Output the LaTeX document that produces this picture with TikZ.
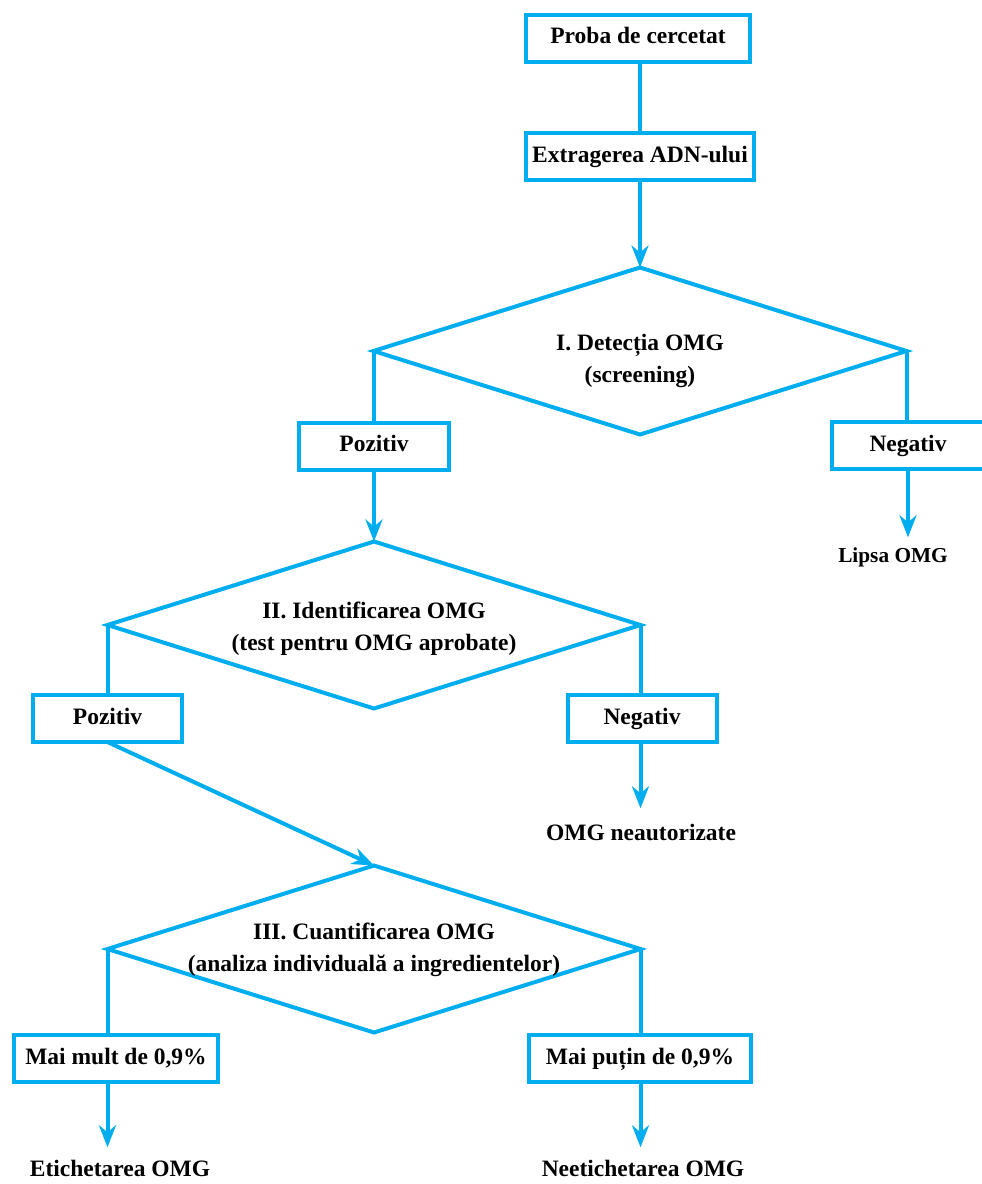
\documentclass[tikz,border=0pt]{standalone}
\usepackage{fontspec}
\setmainfont{Liberation Serif}
\usetikzlibrary{shapes.geometric,arrows.meta}
\definecolor{flowcyan}{RGB}{0,174,239}
\begin{document}
\begin{tikzpicture}[x=1pt,y=-1pt,
  every node/.style={font=\fontsize{23.5}{32}\selectfont\bfseries, text=black},
  boxn/.style={draw=flowcyan, line width=4pt, rectangle, inner sep=0pt, outer sep=0pt, minimum height=47pt, text height=16pt, text depth=5pt},
  dia/.style={draw=flowcyan, line width=4pt, diamond, inner sep=0pt, outer sep=0pt, minimum width=533pt, minimum height=167pt},
  lbl/.style={inner sep=0pt, align=center},
  term/.style={inner sep=0pt, text height=16pt, text depth=5pt},
  conn/.style={draw=flowcyan, line width=4pt},
  arr/.style={conn, -{Stealth[length=22pt,width=17pt,inset=7pt]}}
]
\useasboundingbox (0,0) rectangle (982,1184);

\node[boxn, minimum width=224pt] (B1) at (638,38) {Proba de cercetat};
\node[boxn, minimum width=228pt] (B2) at (640,156.5) {Extragerea ADN-ului};

\node[dia] (D1) at (640,351) {};
\node[lbl] (D1t) at (640,361) {I. Detecția OMG\\(screening)};

\node[boxn, minimum width=150pt] (P1) at (374,446) {Pozitiv};
\node[boxn, minimum width=152pt] (N1) at (908,445.5) {Negativ};
\node[term, font=\fontsize{21.3}{28}\selectfont\bfseries] (L1) at (893,557) {Lipsa OMG};

\node[dia] (D2) at (374,625) {};
\node[lbl] (D2t) at (374,629) {II. Identificarea OMG\\(test pentru OMG aprobate)};

\node[boxn, minimum width=149pt] (P2) at (107.5,718.5) {Pozitiv};
\node[boxn, minimum width=149pt] (N2) at (642,718.5) {Negativ};
\node[term] (L2) at (641,835) {OMG neautorizate};

\node[dia] (D3) at (374,949) {};
\node[lbl] (D3t) at (374,950) {III. Cuantificarea OMG\\(analiza individuală a ingredientelor)};

\node[boxn, minimum width=204pt] (M1) at (116,1058.5) {Mai mult de 0,9\%};
\node[boxn, minimum width=222pt] (M2) at (640,1058.5) {Mai puțin de 0,9\%};
\node[term] (E1) at (120,1171) {Etichetarea OMG};
\node[term] (E2) at (643,1171) {Neetichetarea OMG};

\draw[conn] (B1.south -| B2) -- (B2.north);
\draw[arr] (B2.south) -- (D1.north);
\draw[conn] (D1.west) -- (D1.west |- P1.north);
\draw[conn] (D1.east) -- (D1.east |- N1.north);
\draw[arr] (N1.south) -- ([yshift=9pt]N1.south |- L1.north);
\draw[arr] (P1.south -| D2.north) -- (D2.north);
\draw[conn] (D2.west) -- (D2.west |- P2.north);
\draw[conn] (D2.east) -- (D2.east |- N2.north);
\draw[arr] (D2.east |- N2.south) -- ([yshift=16pt]D2.east |- L2.north);
\draw[arr] (P2.south) -- (D3.north);
\draw[conn] (D3.west) -- (D3.west |- M1.north);
\draw[conn] (D3.east) -- (D3.east |- M2.north);
\draw[arr] (D3.west |- M1.south) -- ([yshift=13pt]D3.west |- E1.north);
\draw[arr] (D3.east |- M2.south) -- ([yshift=13pt]D3.east |- E2.north);
\end{tikzpicture}
\end{document}
